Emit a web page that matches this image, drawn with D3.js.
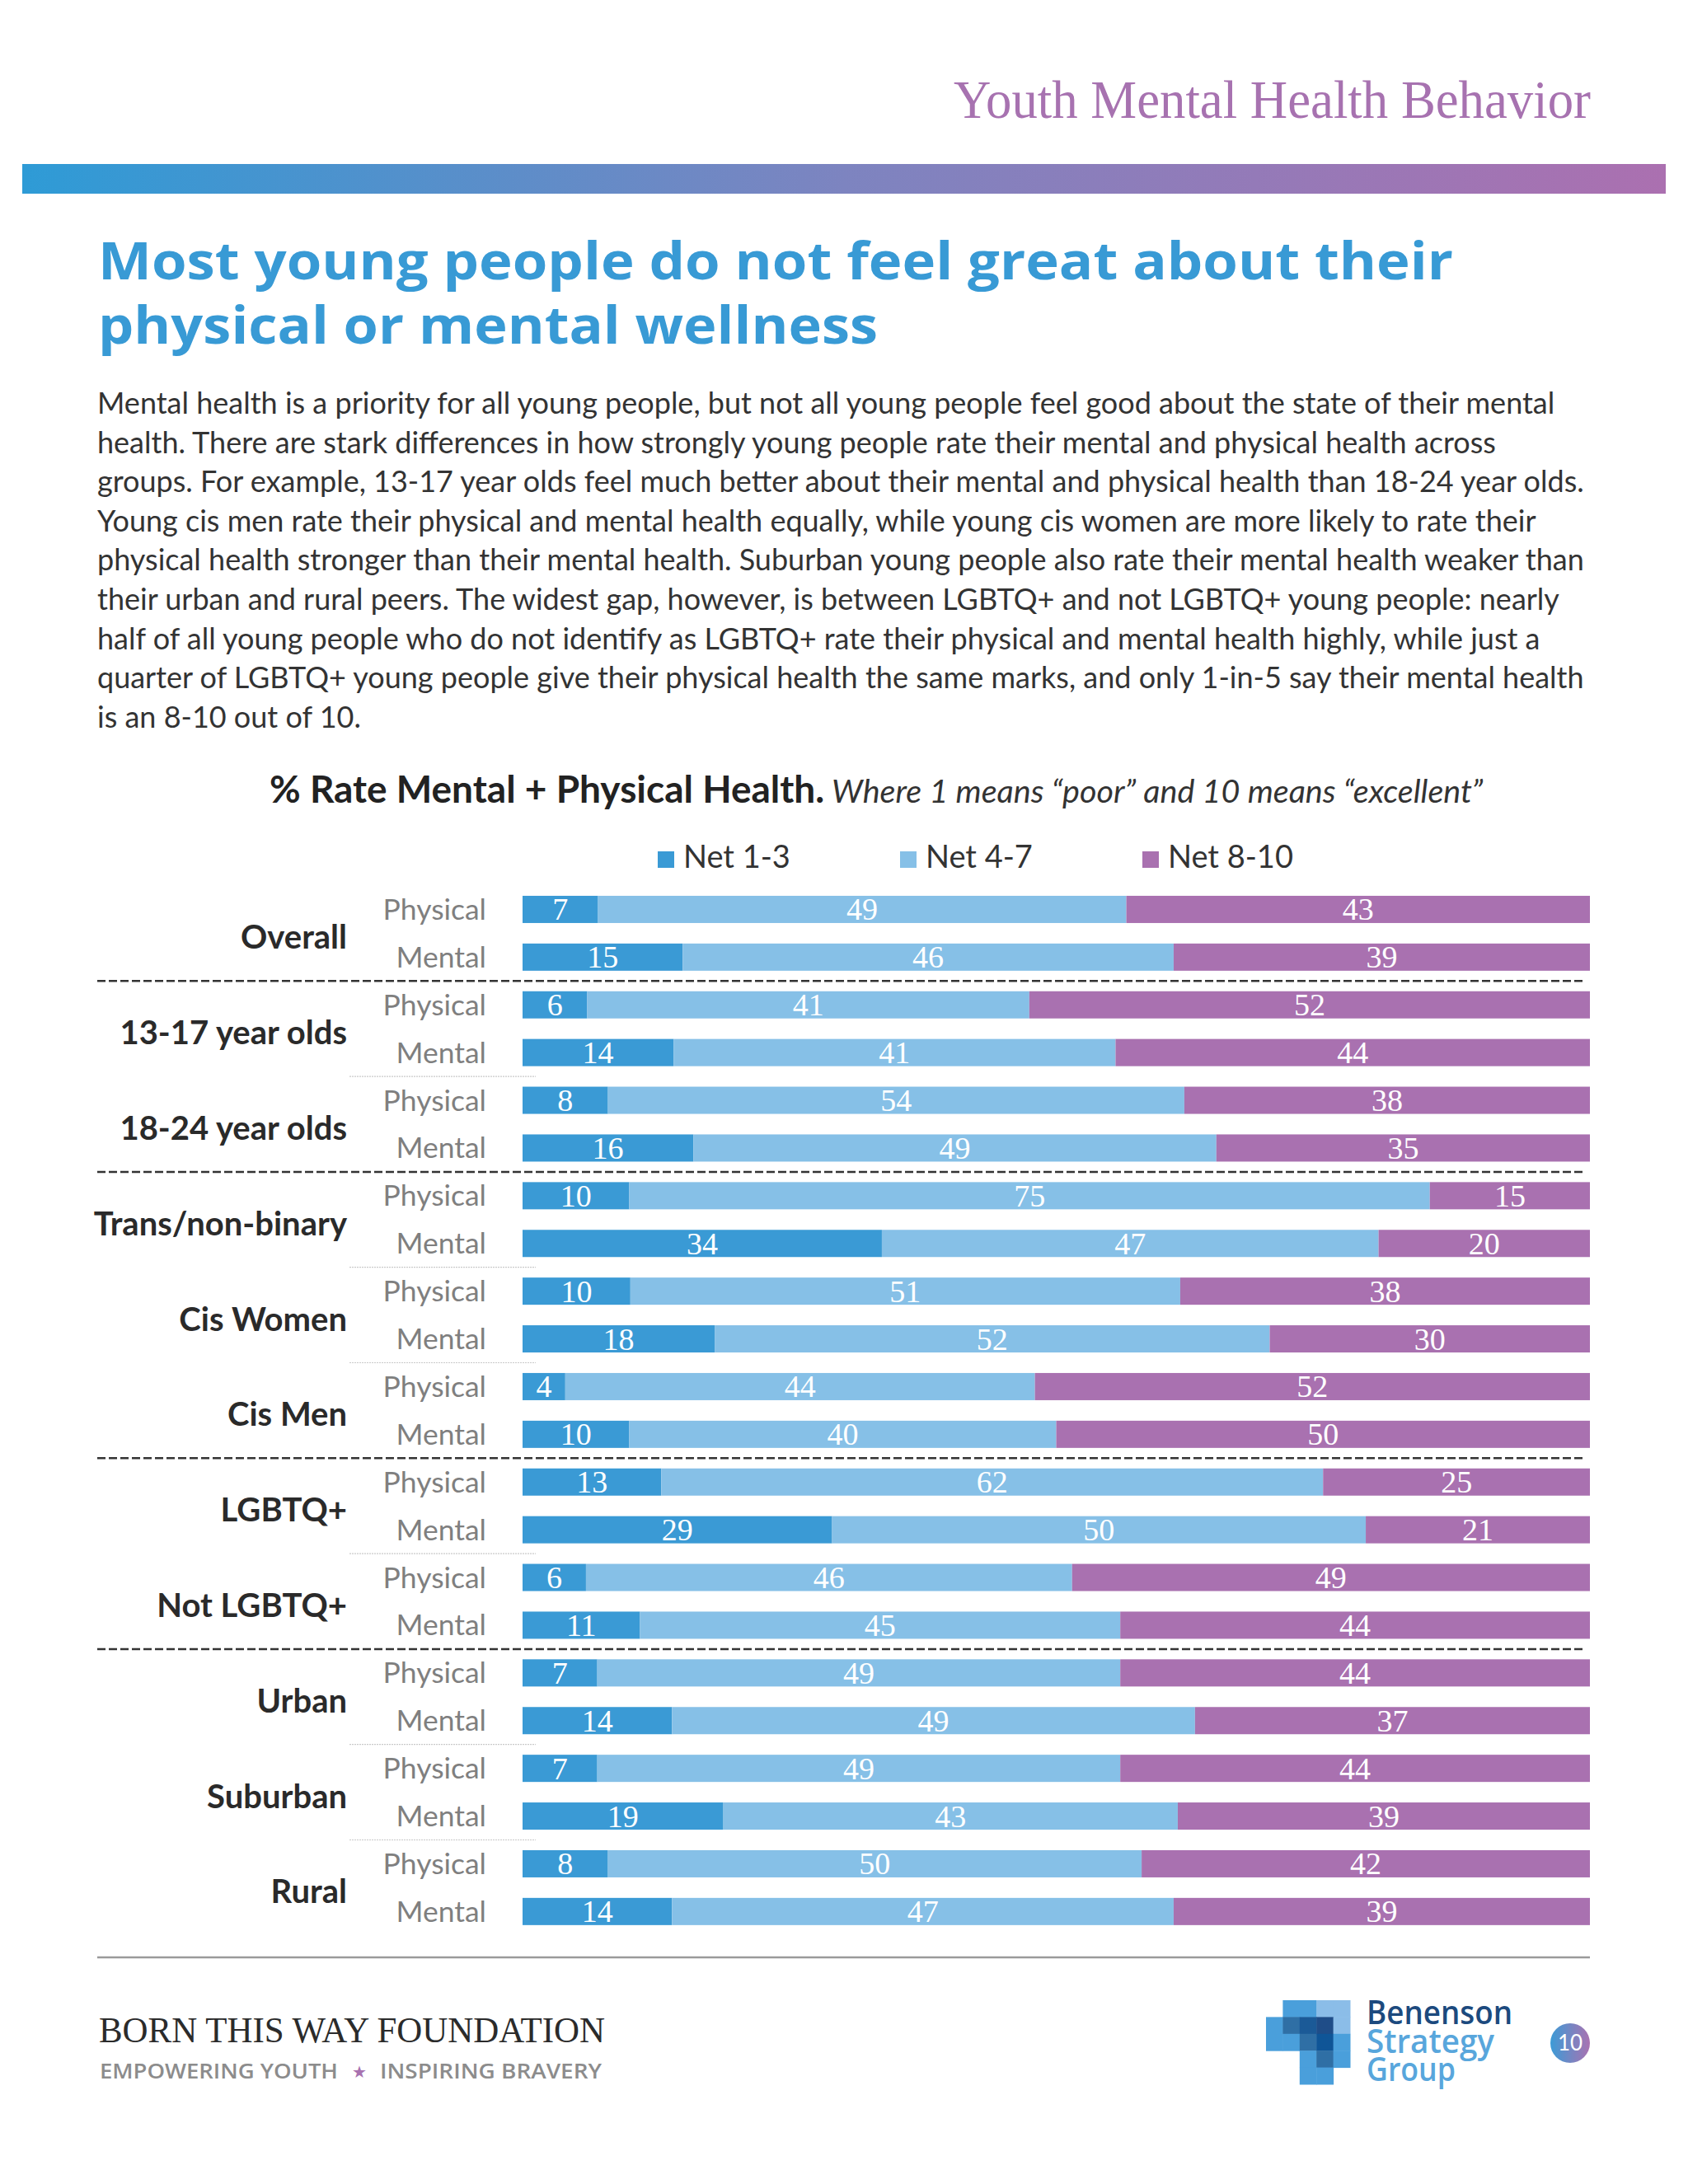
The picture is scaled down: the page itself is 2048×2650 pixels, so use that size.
<!DOCTYPE html>
<html>
<head>
<meta charset="utf-8">
<title>Youth Mental Health Behavior</title>
<script src="https://d3js.org/d3.v7.min.js"></script>
<style>
    body { margin: 0; background: #fff; }
    svg { display: block; }
</style>
</head>
<body>
<div id="page"></div>
<script>
    // chart data
    const groups = ["Overall", "13-17 year olds", "18-24 year olds", "Trans/non-binary", "Cis Women",
        "Cis Men", "LGBTQ+", "Not LGBTQ+", "Urban", "Suburban", "Rural"];
    const sectionOf = [0, 1, 1, 2, 2, 2, 3, 3, 4, 4, 4];
    const measures = ["Physical", "Mental"];
    const seriesNames = ["Net 1-3", "Net 4-7", "Net 8-10"];
    const net13  = [7, 15, 6, 14, 8, 16, 10, 34, 10, 18, 4, 10, 13, 29, 6, 11, 7, 14, 7, 19, 8, 14];
    const net47  = [49, 46, 41, 41, 54, 49, 75, 47, 51, 52, 44, 40, 62, 50, 46, 45, 49, 49, 49, 43, 50, 47];
    const net810 = [43, 39, 52, 44, 38, 35, 15, 20, 38, 30, 52, 50, 25, 21, 49, 44, 44, 37, 44, 39, 42, 39];
    const colors = ["#3a9ad5", "#86c0e7", "#a971b0"];

    const paragraph = [
        "Mental health is a priority for all young people, but not all young people feel good about the state of their mental",
        "health. There are stark differences in how strongly young people rate their mental and physical health across",
        "groups. For example, 13-17 year olds feel much better about their mental and physical health than 18-24 year olds.",
        "Young cis men rate their physical and mental health equally, while young cis women are more likely to rate their",
        "physical health stronger than their mental health. Suburban young people also rate their mental health weaker than",
        "their urban and rural peers. The widest gap, however, is between LGBTQ+ and not LGBTQ+ young people: nearly",
        "half of all young people who do not identify as LGBTQ+ rate their physical and mental health highly, while just a",
        "quarter of LGBTQ+ young people give their physical health the same marks, and only 1-in-5 say their mental health",
        "is an 8-10 out of 10."
    ];

    // logo cells: [col, row, colour]
    const logoCells = [
        [1,0,"#4a9fdb"],[2,0,"#4a9fdb"],[3,0,"#8bbde8"],[4,0,"#8bbde8"],
        [0,1,"#4a9fdb"],[1,1,"#2f6fa5"],[2,1,"#1b5a97"],[3,1,"#1f4d88"],[4,1,"#8bbde8"],
        [0,2,"#4a9fdb"],[1,2,"#4a9fdb"],[2,2,"#2f6fa5"],[3,2,"#0f5597"],[4,2,"#4a9fdb"],
        [2,3,"#4a9fdb"],[3,3,"#2f6fa5"],[4,3,"#4a9fdb"],
        [2,4,"#4a9fdb"],[3,4,"#4a9fdb"]
    ];

    const W = 2048, H = 2650;
    const svg = d3.select("#page").append("svg").attr("width", W).attr("height", H);
    svg.append("rect").attr("width", W).attr("height", H).attr("fill", "#fff");

    const defs = svg.append("defs");
    const hg = defs.append("linearGradient").attr("id", "headGrad");
    hg.append("stop").attr("offset", "0%").attr("stop-color", "#2e9bd6");
    hg.append("stop").attr("offset", "50%").attr("stop-color", "#7d84c0");
    hg.append("stop").attr("offset", "100%").attr("stop-color", "#ab70b0");
    const pg = defs.append("linearGradient").attr("id", "pageGrad");
    pg.append("stop").attr("offset", "0%").attr("stop-color", "#3c9bd6");
    pg.append("stop").attr("offset", "100%").attr("stop-color", "#aa72b1");

    // header
    svg.append("text")
        .attr("x", 1930).attr("y", 143)
        .attr("text-anchor", "end")
        .attr("textLength", 773).attr("lengthAdjust", "spacingAndGlyphs")
        .style("font-family", "'Liberation Serif', serif").style("font-size", "66px")
        .attr("fill", "#a772b0")
        .text("Youth Mental Health Behavior");

    svg.append("rect").attr("x", 27).attr("y", 199).attr("width", 1994).attr("height", 36)
        .attr("fill", "url(#headGrad)");

    // title
    const titleLines = ["Most young people do not feel great about their", "physical or mental wellness"];
    const titleLens = [1644, 946];
    titleLines.forEach((t, i) => {
        svg.append("text")
            .attr("x", 119).attr("y", 339 + i * 78)
            .attr("textLength", titleLens[i]).attr("lengthAdjust", "spacingAndGlyphs")
            .style("font-family", "'Open Sans', sans-serif").style("font-size", "63px").style("font-weight", 700)
            .attr("fill", "#389ad5")
            .text(t);
    });

    // body text
    svg.append("g").selectAll("text").data(paragraph).join("text")
        .attr("x", 118).attr("y", (d, i) => 502 + i * 47.6)
        .style("font-family", "Lato, sans-serif").style("font-size", "36px")
        .attr("fill", "#333")
        .text(d => d);

    // chart heading
    const heading = svg.append("text").attr("x", 327).attr("y", 974)
        .style("font-family", "Lato, sans-serif").attr("fill", "#222");
    heading.append("tspan").style("font-size", "46px").style("font-weight", 700)
        .text("% Rate Mental + Physical Health.");
    heading.append("tspan").style("font-size", "39.5px").style("font-style", "italic").attr("fill", "#333")
        .text(" Where 1 means \u201Cpoor\u201D and 10 means \u201Cexcellent\u201D");

    // legend
    const legendX = [798, 1092, 1386];
    const legend = svg.append("g").selectAll("g").data(seriesNames).join("g")
        .attr("transform", (d, i) => `translate(${legendX[i]},1033)`);
    legend.append("rect").attr("width", 20).attr("height", 20).attr("fill", (d, i) => colors[i]);
    legend.append("text").attr("x", 31).attr("y", 20)
        .style("font-family", "Lato, sans-serif").style("font-size", "38px").attr("fill", "#333")
        .text(d => d);

    // rows
    const rows = [];
    groups.forEach((g, gi) => measures.forEach((m, mi) => {
        const k = gi * 2 + mi;
        rows.push({ key: g + "|" + m, group: g, gi: gi, measure: m,
            "Net 1-3": net13[k], "Net 4-7": net47[k], "Net 8-10": net810[k] });
    }));

    const x = d3.scaleLinear().domain([0, 1]).range([634, 1929]);
    const y = d3.scaleBand().domain(rows.map(d => d.key))
        .range([1074.5, 2348.3]).paddingInner(0.43).paddingOuter(0.215);

    const stack = d3.stack().keys(seriesNames).offset(d3.stackOffsetExpand);
    const series = stack(rows);

    const chart = svg.append("g");
    series.forEach((s, si) => {
        const layer = chart.append("g");
        layer.selectAll("rect").data(s).join("rect")
            .attr("x", d => x(d[0]))
            .attr("y", d => y(d.data.key))
            .attr("width", d => x(d[1]) - x(d[0]))
            .attr("height", y.bandwidth())
            .attr("fill", colors[si]);
        layer.selectAll("text").data(s).join("text")
            .attr("x", d => (x(d[0]) + x(d[1])) / 2)
            .attr("y", d => y(d.data.key) + y.bandwidth() / 2 + 13)
            .attr("text-anchor", "middle")
            .style("font-family", "'Liberation Serif', serif").style("font-size", "38px")
            .attr("fill", "#fff")
            .text(d => d.data[s.key]);
    });

    // row labels
    chart.append("g").selectAll("text").data(rows).join("text")
        .attr("x", 590)
        .attr("y", d => y(d.key) + y.bandwidth() - 4)
        .attr("text-anchor", "end")
        .style("font-family", "Lato, sans-serif").style("font-size", "35.5px")
        .attr("fill", "#7f7f7f")
        .text(d => d.measure);

    // group labels
    const gMid = gi => (y(groups[gi] + "|Physical") + y(groups[gi] + "|Mental") + y.bandwidth()) / 2;
    chart.append("g").selectAll("text").data(groups).join("text")
        .attr("x", 421)
        .attr("y", (d, i) => gMid(i) + 19)
        .attr("text-anchor", "end")
        .style("font-family", "Lato, sans-serif").style("font-size", "40px").style("font-weight", 700)
        .attr("fill", "#2a2a2a")
        .text(d => d);

    // separators
    const gaps = d3.range(groups.length - 1).map(gi => ({
        gi: gi,
        dashed: sectionOf[gi] !== sectionOf[gi + 1],
        yy: (y(groups[gi] + "|Mental") + y.bandwidth() + y(groups[gi + 1] + "|Physical")) / 2
    }));
    chart.append("g").selectAll("line").data(gaps.filter(d => d.dashed)).join("line")
        .attr("x1", 118).attr("x2", 1924)
        .attr("y1", d => d.yy).attr("y2", d => d.yy)
        .attr("stroke", "#333").attr("stroke-width", 2.5).attr("stroke-dasharray", "10,4");
    chart.append("g").selectAll("line").data(gaps.filter(d => !d.dashed)).join("line")
        .attr("x1", 424).attr("x2", 650)
        .attr("y1", d => d.yy).attr("y2", d => d.yy)
        .attr("stroke", "#c9c9c9").attr("stroke-width", 1.2).attr("stroke-dasharray", "2,1");

    svg.append("line").attr("x1", 118).attr("x2", 1929).attr("y1", 2375).attr("y2", 2375)
        .attr("stroke", "#9a9a9a").attr("stroke-width", 2.5);

    // footer
    svg.append("text").attr("x", 120).attr("y", 2478)
        .attr("textLength", 614).attr("lengthAdjust", "spacingAndGlyphs")
        .style("font-family", "'Liberation Serif', serif").style("font-size", "44px")
        .attr("fill", "#2b2b2b").text("BORN THIS WAY FOUNDATION");
    svg.append("text").attr("x", 121).attr("y", 2522)
        .attr("textLength", 289).attr("lengthAdjust", "spacingAndGlyphs")
        .style("font-family", "'Open Sans', sans-serif").style("font-size", "25px").style("font-weight", 600)
        .attr("fill", "#8c8c8c").text("EMPOWERING YOUTH");
    svg.append("text").attr("x", 436).attr("y", 2521).attr("text-anchor", "middle")
        .style("font-family", "'DejaVu Sans', sans-serif").style("font-size", "20px")
        .attr("fill", "#a872b0").text("\u2605");
    svg.append("text").attr("x", 461).attr("y", 2522)
        .attr("textLength", 269).attr("lengthAdjust", "spacingAndGlyphs")
        .style("font-family", "'Open Sans', sans-serif").style("font-size", "25px").style("font-weight", 600)
        .attr("fill", "#8c8c8c").text("INSPIRING BRAVERY");

    // logo
    const cell = 20.4;
    svg.append("g").attr("transform", "translate(1536,2427)")
        .selectAll("rect").data(logoCells).join("rect")
        .attr("x", d => d[0] * cell).attr("y", d => d[1] * cell)
        .attr("width", cell + 0.5).attr("height", cell + 0.5)
        .attr("fill", d => d[2]);
    const logoText = [["Benenson", 2456, 177, "#1c4a7e"], ["Strategy", 2491, 155, "#58a6dc"], ["Group", 2525, 108, "#58a6dc"]];
    svg.append("g").selectAll("text").data(logoText).join("text")
        .attr("x", 1658).attr("y", d => d[1])
        .attr("textLength", d => d[2]).attr("lengthAdjust", "spacingAndGlyphs")
        .style("font-family", "'Open Sans', sans-serif").style("font-size", "39px").style("font-weight", 600)
        .attr("fill", d => d[3])
        .text(d => d[0]);

    svg.append("circle").attr("cx", 1905).attr("cy", 2479).attr("r", 24).attr("fill", "url(#pageGrad)");
    svg.append("text").attr("x", 1905).attr("y", 2488).attr("text-anchor", "middle")
        .style("font-family", "Lato, sans-serif").style("font-size", "26px")
        .attr("fill", "#fff").text("10");
</script>
</body>
</html>
